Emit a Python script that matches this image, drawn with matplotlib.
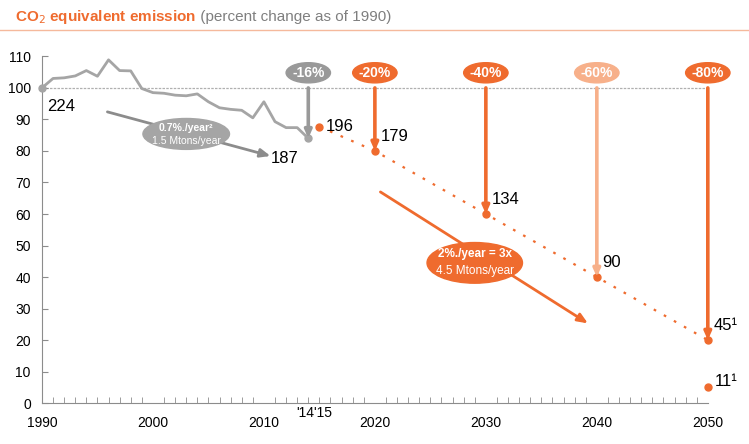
import matplotlib.pyplot as plt
from matplotlib.patches import Ellipse
from matplotlib.lines import Line2D

plt.rcParams['font.family'] = ['Liberation Sans', 'DejaVu Sans']

# historical emissions (index, 1990 = 100)
hist_years = list(range(1990, 2015))
hist_values = [100, 103, 103.2, 103.8, 105.5, 103.7, 108.9, 105.5, 105.4, 99.8,
               98.5, 98.3, 97.7, 97.5, 98.1, 95.6, 93.7, 93.2, 92.9, 90.5,
               95.6, 89.3, 87.4, 87.4, 84.0]

# target path
path_years = [2015, 2020, 2030, 2040, 2050]
path_values = [87.7, 80, 60, 40, 20]

target_years = [2020, 2030, 2040, 2050]
target_values = [80, 60, 40, 20]
target_pct = ['-20%', '-40%', '-60%', '-80%']
target_mtons = ['179', '134', '90', '45¹']

alt_year, alt_value, alt_label = 2050, 5, '11¹'
now_year, now_value, now_pct, now_label = 2014, 84.0, '-16%', '187'
y2015_label = '196'
base_label = '224'

xtick_pos = [1990, 2000, 2010, 2020, 2030, 2040, 2050]
xtick_labels = ['1990', '2000', '2010', '2020', '2030', '2040', '2050']

ORANGE = '#EF6B2E'
LIGHT = '#F7B08A'
GRAY = '#A5A5A5'

fig = plt.figure(figsize=(7.49, 4.44), dpi=100)
ax = fig.add_axes([0.056, 0.092, 0.889, 0.781])
ax.set_xlim(1990, 2050)
ax.set_ylim(0, 110)

# 100 baseline
ax.plot([1990, 2050], [100, 100], color='#B0B0B0', lw=0.9, ls=(0, (2, 1)), zorder=1)

# history
ax.plot(hist_years, hist_values, color=GRAY, lw=2, zorder=3)
ax.plot([hist_years[0]], [hist_values[0]], 'o', color=GRAY, ms=5, zorder=3, clip_on=False)
ax.plot([now_year], [now_value], 'o', color=GRAY, ms=5, zorder=3)

# dotted target path
ax.plot(path_years, path_values, color=ORANGE, lw=1.6, ls=(0, (1.2, 4)), zorder=2)
ax.plot(path_years, path_values, 'o', color=ORANGE, ms=5, zorder=4, clip_on=False)
ax.plot([alt_year], [alt_value], 'o', color=ORANGE, ms=5, zorder=4, clip_on=False)

# vertical arrows
def varrow(x, y, color, pct):
    ax.annotate('', xy=(x, y), xytext=(x, 100),
                arrowprops=dict(arrowstyle='-|>,head_length=0.45,head_width=0.2',
                                color=color, lw=2.6, shrinkA=0, shrinkB=0),
                zorder=5)
    ax.add_patch(Ellipse((x, 104.8), 4.0, 6.4, color=color, zorder=6, clip_on=False))
    ax.text(x, 104.8, pct, ha='center', va='center', color='white',
            fontsize=10, fontweight='bold', zorder=7)

varrow(now_year, now_value, '#999999', now_pct)
for yr, v, pct in zip(target_years, target_values, target_pct):
    c = LIGHT if pct == '-60%' else ORANGE
    varrow(yr, v, c, pct)

# value labels
ax.text(1990.5, 94, base_label, fontsize=12, va='center', ha='left')
ax.text(now_year - 2.1, 77.5, now_label, fontsize=12, va='center', ha='center')
ax.text(2015.6, 87.8, y2015_label, fontsize=12, va='center', ha='left')
for yr, v, lab in zip(target_years, target_values, target_mtons):
    ax.text(yr + 0.5, v + 4.5, lab, fontsize=12, va='center', ha='left')
ax.text(alt_year + 0.6, alt_value + 2, alt_label, fontsize=12, va='center', ha='left')

# trend arrows with ellipse labels
ax.annotate('', xy=(2010.6, 78.4), xytext=(1995.9, 92.4),
            arrowprops=dict(arrowstyle='-|>,head_length=0.6,head_width=0.25',
                            color='#8C8C8C', lw=2, shrinkA=0, shrinkB=0), zorder=2)
ax.add_patch(Ellipse((2003, 85.4), 7.8, 9.8, color=GRAY, zorder=3))
ax.text(2003, 87.4, '0.7%./year²', ha='center', va='center', color='white',
        fontsize=7.5, fontweight='bold', zorder=4)
ax.text(2003, 83.3, '1.5 Mtons/year', ha='center', va='center', color='white',
        fontsize=7.5, zorder=4)

ax.annotate('', xy=(2039.2, 25.3), xytext=(2020.5, 67),
            arrowprops=dict(arrowstyle='-|>,head_length=0.6,head_width=0.25',
                            color=ORANGE, lw=2, shrinkA=0, shrinkB=0), zorder=2)
ax.add_patch(Ellipse((2029, 44.5), 8.6, 12.9, color=ORANGE, zorder=3))
ax.text(2029, 47.3, '2%./year = 3x', ha='center', va='center', color='white',
        fontsize=8.5, fontweight='bold', zorder=4)
ax.text(2029, 42, '4.5 Mtons/year', ha='center', va='center', color='white',
        fontsize=8.5, zorder=4)

# axes styling
for s in ['top', 'right']:
    ax.spines[s].set_visible(False)
for s in ['left', 'bottom']:
    ax.spines[s].set_color('#8C8C8C')
    ax.spines[s].set_linewidth(0.8)
ax.set_yticks(range(0, 111, 10))
ax.tick_params(axis='y', direction='in', length=4, color='#8C8C8C', labelsize=10, pad=8)
ax.set_xticks(xtick_pos)
ax.set_xticklabels(xtick_labels)
ax.set_xticks(range(1990, 2051), minor=True)
ax.tick_params(axis='x', which='major', length=0, labelsize=10, pad=9)
ax.tick_params(axis='x', which='minor', direction='in', length=4, color='#8C8C8C')
ax.text(2014.5, -3, "'14'15", ha='center', va='center', fontsize=10)

# title
t1 = fig.text(15 / 749, 1 - 17 / 444, 'CO$_2$ equivalent emission', color=ORANGE,
              fontsize=11, fontweight='bold', va='center', ha='left')
ax.annotate(' (percent change as of 1990)', xy=(1, 0.5), xycoords=t1,
            color='#7F7F7F', fontsize=11, va='center', ha='left',
            annotation_clip=False)
fig.add_artist(Line2D([0, 1], [1 - 30 / 444, 1 - 30 / 444], color='#F5B99C', lw=1))

fig.savefig('out.png', dpi=100)
